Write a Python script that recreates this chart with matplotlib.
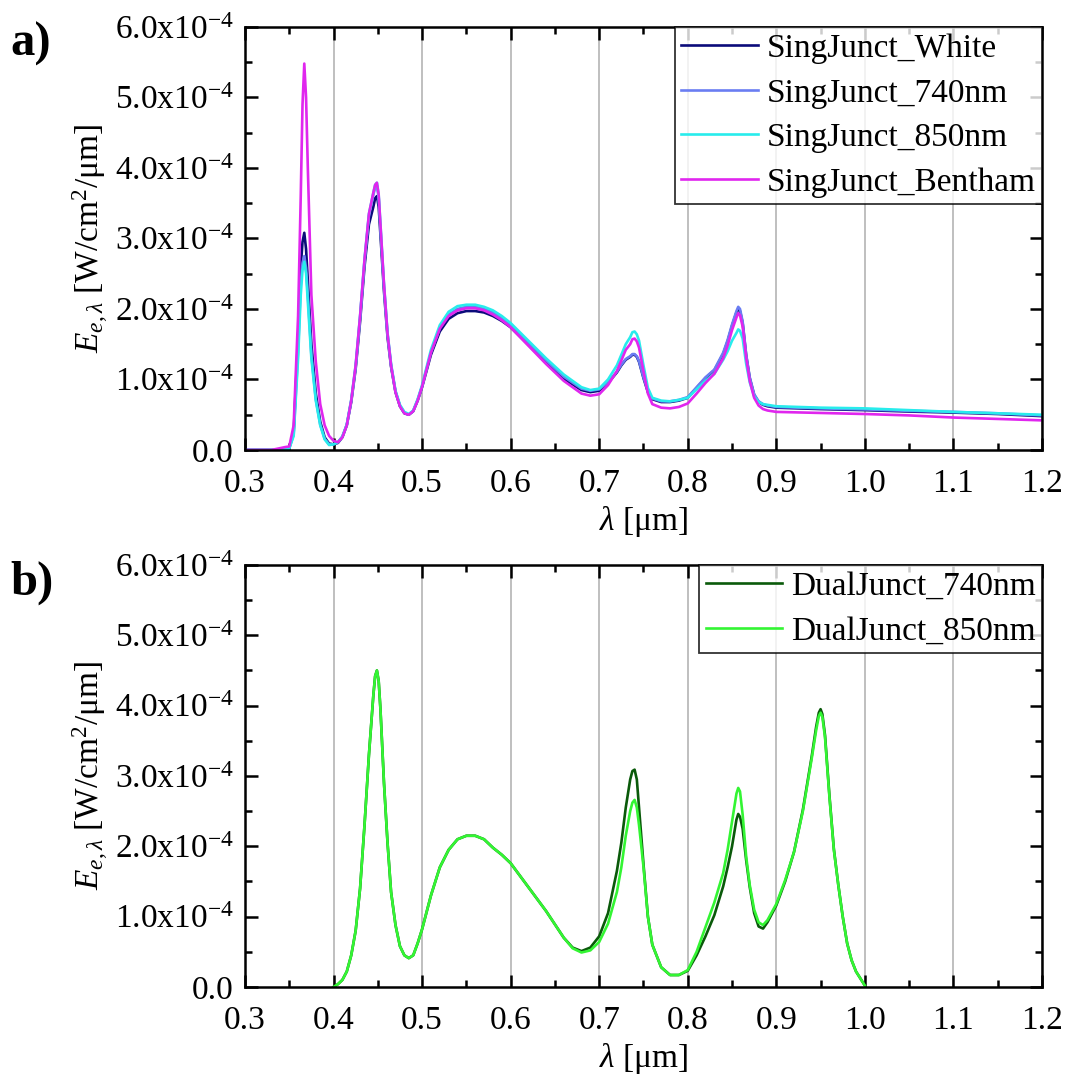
import matplotlib
matplotlib.use("Agg")
import matplotlib.pyplot as plt
from matplotlib.ticker import MultipleLocator, FuncFormatter
import numpy as np

plt.rcParams['font.family'] = ['Liberation Serif', 'DejaVu Serif']
plt.rcParams['mathtext.fontset'] = 'custom'
plt.rcParams['mathtext.rm'] = 'Liberation Serif'
plt.rcParams['mathtext.it'] = 'Liberation Serif:italic'
plt.rcParams['mathtext.bf'] = 'Liberation Serif:bold'

# Spektralna gestosc natezenia napromienienia, jednostka 1e-4 W/cm2/um
wl_a = [0.30, 0.33, 0.345, 0.35, 0.355, 0.36, 0.363, 0.365, 0.367, 0.369, 0.371, 0.375,
        0.38, 0.385, 0.39, 0.395, 0.40, 0.405, 0.41, 0.415, 0.42, 0.425,
        0.43, 0.435, 0.44, 0.445, 0.447, 0.449, 0.451, 0.453, 0.457, 0.461, 0.465, 0.47,
        0.475, 0.48, 0.485, 0.49, 0.495, 0.50, 0.51, 0.52, 0.53, 0.54,
        0.55, 0.56, 0.57, 0.58, 0.59, 0.60, 0.62, 0.64, 0.66, 0.68,
        0.69, 0.70, 0.71, 0.72, 0.725, 0.73, 0.735, 0.7375, 0.74, 0.7425, 0.745, 0.75,
        0.755, 0.76, 0.77, 0.78, 0.79, 0.80, 0.81, 0.82, 0.83, 0.84,
        0.845, 0.85, 0.855, 0.857, 0.859, 0.862, 0.866, 0.87, 0.875, 0.88, 0.885,
        0.89, 0.90, 0.95, 1.00, 1.05, 1.10, 1.15, 1.20]

sj_white = [0.0, 0.0, 0.01, 0.03, 0.25, 1.60, 2.60, 2.95, 3.08, 2.85, 2.40, 1.50,
            0.80, 0.40, 0.18, 0.09, 0.08, 0.10, 0.18, 0.35, 0.68, 1.15,
            1.82, 2.60, 3.20, 3.45, 3.57, 3.60, 3.45, 3.05, 2.25, 1.60, 1.18, 0.82,
            0.62, 0.52, 0.50, 0.55, 0.70, 0.89, 1.35, 1.68, 1.86, 1.94,
            1.97, 1.97, 1.95, 1.90, 1.83, 1.74, 1.49, 1.24, 1.01, 0.85,
            0.82, 0.84, 0.95, 1.10, 1.20, 1.28, 1.32, 1.35, 1.35, 1.32, 1.25, 1.02,
            0.82, 0.72, 0.68, 0.68, 0.70, 0.74, 0.88, 1.02, 1.13, 1.36,
            1.54, 1.76, 1.95, 2.00, 1.97, 1.80, 1.34, 1.02, 0.78, 0.68, 0.64,
            0.62, 0.60, 0.58, 0.565, 0.545, 0.53, 0.51, 0.48]

sj_740 = [0.0, 0.0, 0.01, 0.02, 0.22, 1.40, 2.35, 2.65, 2.75, 2.58, 2.20, 1.35,
          0.72, 0.36, 0.16, 0.08, 0.08, 0.11, 0.19, 0.36, 0.70, 1.18,
          1.88, 2.68, 3.32, 3.62, 3.72, 3.75, 3.58, 3.15, 2.32, 1.64, 1.20, 0.83,
          0.63, 0.53, 0.50, 0.55, 0.71, 0.90, 1.38, 1.73, 1.92, 2.00,
          2.03, 2.03, 2.00, 1.95, 1.87, 1.78, 1.52, 1.27, 1.04, 0.87,
          0.84, 0.86, 0.96, 1.11, 1.21, 1.29, 1.33, 1.36, 1.36, 1.33, 1.26, 1.03,
          0.83, 0.73, 0.69, 0.69, 0.71, 0.75, 0.89, 1.03, 1.14, 1.38,
          1.56, 1.78, 1.97, 2.03, 2.00, 1.82, 1.35, 1.03, 0.79, 0.69, 0.65,
          0.63, 0.61, 0.59, 0.575, 0.555, 0.54, 0.52, 0.49]

sj_850 = [0.0, 0.0, 0.01, 0.02, 0.20, 1.30, 2.20, 2.55, 2.67, 2.50, 2.10, 1.30,
          0.70, 0.35, 0.15, 0.07, 0.08, 0.11, 0.19, 0.36, 0.71, 1.20,
          1.90, 2.70, 3.35, 3.65, 3.76, 3.79, 3.62, 3.20, 2.35, 1.66, 1.22, 0.84,
          0.64, 0.54, 0.51, 0.56, 0.72, 0.92, 1.42, 1.77, 1.96, 2.04,
          2.06, 2.06, 2.03, 1.98, 1.90, 1.80, 1.55, 1.30, 1.07, 0.89,
          0.85, 0.87, 1.00, 1.20, 1.35, 1.50, 1.60, 1.67, 1.68, 1.64, 1.55, 1.20,
          0.88, 0.74, 0.70, 0.69, 0.71, 0.74, 0.86, 0.98, 1.08, 1.28,
          1.40, 1.55, 1.66, 1.71, 1.69, 1.58, 1.22, 0.96, 0.76, 0.68, 0.65,
          0.64, 0.62, 0.60, 0.59, 0.565, 0.54, 0.52, 0.50]

sj_bentham = [0.0, 0.0, 0.04, 0.05, 0.35, 1.90, 3.60, 4.90, 5.48, 5.00, 4.00, 2.20,
              1.25, 0.65, 0.35, 0.20, 0.13, 0.11, 0.18, 0.35, 0.70, 1.20,
              1.90, 2.70, 3.35, 3.65, 3.76, 3.79, 3.62, 3.20, 2.35, 1.65, 1.20, 0.82,
              0.62, 0.52, 0.50, 0.55, 0.70, 0.90, 1.38, 1.72, 1.90, 1.98,
              2.01, 2.01, 1.98, 1.92, 1.84, 1.74, 1.48, 1.22, 0.98, 0.80,
              0.77, 0.79, 0.92, 1.12, 1.27, 1.42, 1.50, 1.57, 1.58, 1.54, 1.45, 1.12,
              0.80, 0.65, 0.60, 0.59, 0.61, 0.66, 0.80, 0.95, 1.08, 1.30,
              1.48, 1.70, 1.88, 1.94, 1.91, 1.75, 1.30, 0.98, 0.74, 0.63, 0.58,
              0.56, 0.54, 0.525, 0.51, 0.49, 0.46, 0.44, 0.42]

wl_b = [0.40, 0.405, 0.41, 0.415, 0.42, 0.425, 0.43, 0.435, 0.44, 0.445,
        0.447, 0.449, 0.451, 0.453, 0.457, 0.461, 0.465, 0.47, 0.475, 0.48,
        0.485, 0.49, 0.495, 0.50, 0.51, 0.52, 0.53, 0.54, 0.55, 0.56,
        0.57, 0.58, 0.59, 0.60, 0.62, 0.64, 0.66, 0.67, 0.68, 0.69,
        0.70, 0.71, 0.72, 0.725, 0.73, 0.735, 0.7375, 0.74, 0.7425, 0.745,
        0.75, 0.755, 0.76, 0.77, 0.78, 0.79, 0.80, 0.81, 0.82, 0.83,
        0.84, 0.845, 0.85, 0.855, 0.857, 0.859, 0.862, 0.866, 0.87, 0.875,
        0.88, 0.885, 0.89, 0.90, 0.91, 0.92, 0.93, 0.94, 0.945, 0.948,
        0.95, 0.952, 0.955, 0.96, 0.965, 0.97, 0.975, 0.98, 0.985, 0.99,
        0.995, 1.00]

dj_740 = [0.0, 0.04, 0.10, 0.22, 0.45, 0.80, 1.40, 2.30, 3.30, 4.15,
          4.42, 4.50, 4.35, 3.95, 2.90, 2.05, 1.35, 0.88, 0.58, 0.45,
          0.41, 0.45, 0.62, 0.82, 1.30, 1.70, 1.95, 2.10, 2.15, 2.15,
          2.10, 1.98, 1.88, 1.76, 1.42, 1.08, 0.70, 0.56, 0.51, 0.56,
          0.72, 1.05, 1.65, 2.05, 2.55, 2.95, 3.07, 3.09, 2.95, 2.55,
          1.75, 1.00, 0.60, 0.28, 0.17, 0.17, 0.23, 0.45, 0.72, 1.02,
          1.43, 1.70, 2.00, 2.38, 2.46, 2.42, 2.25, 1.80, 1.42, 1.05,
          0.86, 0.83, 0.92, 1.16, 1.50, 1.92, 2.52, 3.28, 3.70, 3.90,
          3.95, 3.88, 3.58, 2.72, 1.96, 1.45, 1.00, 0.62, 0.38, 0.22,
          0.12, 0.02]

dj_850 = [0.0, 0.04, 0.10, 0.22, 0.45, 0.80, 1.40, 2.30, 3.30, 4.15,
          4.42, 4.50, 4.35, 3.95, 2.90, 2.05, 1.35, 0.88, 0.58, 0.45,
          0.41, 0.45, 0.62, 0.82, 1.30, 1.70, 1.95, 2.10, 2.15, 2.15,
          2.10, 1.98, 1.88, 1.76, 1.42, 1.08, 0.70, 0.55, 0.49, 0.52,
          0.64, 0.90, 1.35, 1.70, 2.15, 2.50, 2.62, 2.66, 2.55, 2.30,
          1.71, 1.00, 0.60, 0.28, 0.17, 0.17, 0.24, 0.50, 0.85, 1.20,
          1.62, 1.95, 2.35, 2.75, 2.83, 2.78, 2.45, 1.85, 1.45, 1.10,
          0.92, 0.88, 0.95, 1.18, 1.52, 1.92, 2.50, 3.25, 3.65, 3.85,
          3.90, 3.84, 3.55, 2.70, 1.95, 1.45, 1.00, 0.62, 0.38, 0.22,
          0.12, 0.02]

labels_a = ['SingJunct_White', 'SingJunct_740nm', 'SingJunct_850nm', 'SingJunct_Bentham']
colors_a = ['#0b0b7a', '#6a7df2', '#28ecec', '#e026ee']
labels_b = ['DualJunct_740nm', 'DualJunct_850nm']
colors_b = ['#0a5a0a', '#33f533']

SCALE = 1e-4
FS = 24


def sci_label(val, pos):
    if abs(val) < 1e-12:
        return '0.0'
    return '%.1fx10$^{-4}$' % (val / SCALE)


def style_axes(ax):
    ax.set_xlim(0.3, 1.2)
    ax.set_ylim(0, 6e-4)
    ax.xaxis.set_major_locator(MultipleLocator(0.1))
    ax.xaxis.set_minor_locator(MultipleLocator(0.05))
    ax.yaxis.set_major_locator(MultipleLocator(1e-4))
    ax.yaxis.set_minor_locator(MultipleLocator(0.5e-4))
    ax.xaxis.set_major_formatter(FuncFormatter(lambda v, p: '%.1f' % v))
    ax.yaxis.set_major_formatter(FuncFormatter(sci_label))
    ax.tick_params(which='both', direction='in', top=True, right=True,
                   labelsize=FS, width=1.8)
    ax.tick_params(axis='x', pad=13)
    ax.tick_params(axis='y', pad=8)
    ax.tick_params(which='major', length=9)
    ax.tick_params(which='minor', length=5)
    for sp in ax.spines.values():
        sp.set_linewidth(1.8)
    ax.grid(True, axis='x', which='major', color='#b4b4b4', linewidth=1.2)
    ax.set_axisbelow(True)
    ax.set_xlabel(r'$\mathit{\lambda}$ [$\mathrm{\mu}$m]', fontsize=FS, labelpad=4)
    ax.set_ylabel(r'$E_{e,\lambda}$ [W/cm$^2$/$\mathrm{\mu}$m]', fontsize=FS, labelpad=4)


fig = plt.figure(figsize=(10.72, 10.77), dpi=100)
ax_a = fig.add_axes([0.2285, 0.5822, 0.7435, 0.3928])
ax_b = fig.add_axes([0.2285, 0.0836, 0.7435, 0.3918])

x_a = np.array(wl_a)
for vals, lab, col in zip([sj_white, sj_740, sj_850, sj_bentham], labels_a, colors_a):
    ax_a.plot(x_a, np.array(vals) * SCALE, color=col, lw=1.9, label=lab)

x_b = np.array(wl_b)
for vals, lab, col in zip([dj_740, dj_850], labels_b, colors_b):
    ax_b.plot(x_b, np.array(vals) * SCALE, color=col, lw=1.9, label=lab)

for ax in (ax_a, ax_b):
    style_axes(ax)
    leg = ax.legend(loc='upper right', fontsize=FS, frameon=True, fancybox=False,
                    borderaxespad=0.0, handlelength=2.3, handletextpad=0.25,
                    labelspacing=0.42, borderpad=0.2)
    leg.get_frame().set_edgecolor('black')
    leg.get_frame().set_linewidth(1.3)

fig.text(0.010, 0.948, 'a)', fontsize=35, fontweight='bold')
fig.text(0.010, 0.448, 'b)', fontsize=35, fontweight='bold')

fig.savefig('out.png', dpi=100)
